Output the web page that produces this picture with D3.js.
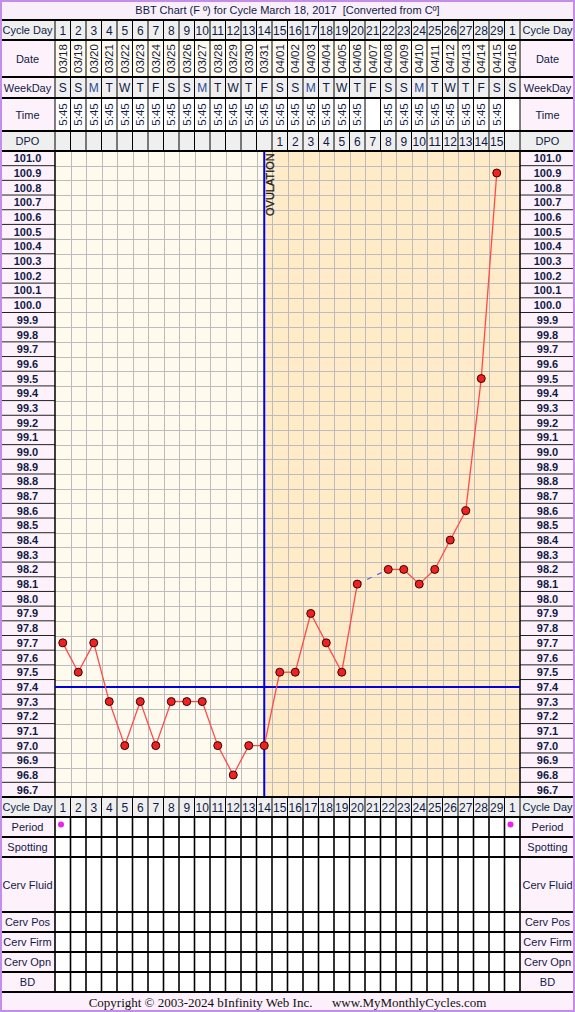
<!DOCTYPE html>
<html>
<head>
<meta charset="utf-8">
<script src="https://cdn.jsdelivr.net/npm/d3@7"></script>
<style>
  body { margin: 0; background: #fff; }
  svg { display: block; font-family: "Liberation Sans", Arial, sans-serif; }
</style>
</head>
<body>
<div id="chart"></div>
<script>
const W = 575, H = 1012;

// chart data
const cycleDays = [1,2,3,4,5,6,7,8,9,10,11,12,13,14,15,16,17,18,19,20,21,22,23,24,25,26,27,28,29,1];
const dates = ["03/18","03/19","03/20","03/21","03/22","03/23","03/24","03/25","03/26","03/27",
    "03/28","03/29","03/30","03/31","04/01","04/02","04/03","04/04","04/05","04/06",
    "04/07","04/08","04/09","04/10","04/11","04/12","04/13","04/14","04/15","04/16"];
const weekdays = ["S","S","M","T","W","T","F","S","S","M","T","W","T","F","S",
    "S","M","T","W","T","F","S","S","M","T","W","T","F","S","S"];
const times = ["5:45","5:45","5:45","5:45","5:45","5:45","5:45","5:45","5:45","5:45",
    "5:45","5:45","5:45","5:45","5:45","5:45","5:45","5:45","5:45","5:45",
    "","5:45","5:45","5:45","5:45","5:45","5:45","5:45","5:45",""];
const dpo = ["","","","","","","","","","","","","","","1","2","3","4","5","6","7","8","9","10","11","12","13","14","15",""];
const temps = [97.7,97.5,97.7,97.3,97.0,97.3,97.0,97.3,97.3,97.3,97.0,96.8,97.0,97.0,
    97.5,97.5,97.9,97.7,97.5,98.1,null,98.2,98.2,98.1,98.2,98.4,98.6,99.5,100.9,null];
const tempTicks = d3.range(0, 44).map(i => +(101.0 - i * 0.1).toFixed(1));
const periodDays = [0, 29];
const ovulationDay = 13;   // index of cycle day 14
const coverline = 97.4;
const bottomRows = [
    {label: "Period", y0: 817, y1: 837},
    {label: "Spotting", y0: 837, y1: 857},
    {label: "Cerv Fluid", y0: 857, y1: 912},
    {label: "Cerv Pos", y0: 912, y1: 932},
    {label: "Cerv Firm", y0: 932, y1: 952},
    {label: "Cerv Opn", y0: 952, y1: 972},
    {label: "BD", y0: 972, y1: 992}
];

const leftW = 55, rightX = 520;
const textCol = "#111a44", pink = "#fdf1fc", gray = "#efefef", cream = "#fffaee", orange = "#ffebc8";

const svg = d3.select("#chart").append("svg")
    .attr("width", W).attr("height", H);

const x = d3.scaleBand().domain(d3.range(30)).range([leftW, rightX]);
const cx = i => x(i) + x.bandwidth() / 2;
const yTop = 151, yBot = 797;
const y = d3.scaleLinear().domain([96.65, 101.05]).range([yBot, yTop]);

// title
svg.append("rect").attr("x", 0).attr("y", 0).attr("width", W).attr("height", 20).attr("fill", "#f9effb");
svg.append("text").attr("x", W / 2).attr("y", 14).attr("text-anchor", "middle")
    .attr("font-size", 11).attr("fill", textCol).attr("xml:space", "preserve")
    .text("BBT Chart (F º) for Cycle March 18, 2017  [Converted from Cº]");

// header rows
function headerRow(y0, y1, label, labelBg, cellBg, values, opts = {}) {
    const g = svg.append("g");
    g.append("rect").attr("x", 0).attr("y", y0).attr("width", leftW).attr("height", y1 - y0).attr("fill", labelBg);
    g.append("rect").attr("x", rightX).attr("y", y0).attr("width", W - rightX).attr("height", y1 - y0).attr("fill", labelBg);
    g.selectAll("rect.cell").data(values).join("rect").attr("class", "cell")
        .attr("x", (d, i) => x(i)).attr("y", y0)
        .attr("width", x.bandwidth()).attr("height", y1 - y0)
        .attr("fill", cellBg);
    [leftW / 2, (rightX + W) / 2].forEach(lx => {
        g.append("text").attr("x", lx).attr("y", (y0 + y1) / 2 + 4)
            .attr("text-anchor", "middle").attr("font-size", 11).attr("fill", textCol).text(label);
    });
    const t = g.selectAll("text.v").data(values).join("text").attr("class", "v")
        .attr("font-size", opts.size || 12)
        .attr("fill", (d) => opts.color ? opts.color(d) : textCol)
        .text(d => d);
    if (opts.rotate) {
        t.attr("text-anchor", "middle")
            .attr("transform", (d, i) => `translate(${cx(i) + 4},${(y0 + y1) / 2}) rotate(-90)`);
    } else {
        t.attr("x", (d, i) => cx(i)).attr("y", (y0 + y1) / 2 + 4.5).attr("text-anchor", "middle");
    }
    g.selectAll("line.v").data(d3.range(31)).join("line").attr("class", "v")
        .attr("x1", i => i === 30 ? rightX : x(i)).attr("x2", i => i === 30 ? rightX : x(i))
        .attr("y1", y0).attr("y2", y1).attr("stroke", "#000").attr("stroke-width", opts.lw || 1);
}

headerRow(20, 40, "Cycle Day", gray, gray, cycleDays, {size: 12});
headerRow(40, 77, "Date", pink, cream, dates, {rotate: true, size: 11.5});
headerRow(77, 98, "WeekDay", pink, gray, weekdays, {color: d => d === "M" ? "#2a4a9a" : textCol});
headerRow(98, 131, "Time", pink, "#fff", times, {rotate: true, size: 11.5});
headerRow(131, 151, "DPO", gray, gray, dpo, {size: 12});

// temperature area
svg.append("rect").attr("x", leftW).attr("y", yTop).attr("width", cx(ovulationDay) - leftW)
    .attr("height", yBot - yTop).attr("fill", cream);
svg.append("rect").attr("x", cx(ovulationDay)).attr("y", yTop).attr("width", rightX - cx(ovulationDay))
    .attr("height", yBot - yTop).attr("fill", orange);

const grid = svg.append("g").attr("stroke", "#bcbcbc").attr("stroke-width", 1);
grid.selectAll("line.h").data(tempTicks.slice(1)).join("line").attr("class", "h")
    .attr("x1", leftW).attr("x2", rightX)
    .attr("y1", d => Math.round(y(d + 0.05)) + 0.5).attr("y2", d => Math.round(y(d + 0.05)) + 0.5);
grid.selectAll("line.v").data(d3.range(1, 30)).join("line").attr("class", "v")
    .attr("x1", i => Math.round(x(i)) + 0.5).attr("x2", i => Math.round(x(i)) + 0.5)
    .attr("y1", yTop).attr("y2", yBot);

// temperature label columns
[[0, leftW], [rightX, W]].forEach(([x0, x1]) => {
    const g = svg.append("g");
    g.append("rect").attr("x", x0).attr("y", yTop).attr("width", x1 - x0).attr("height", yBot - yTop).attr("fill", pink);
    g.selectAll("line").data(tempTicks.slice(1)).join("line")
        .attr("x1", x0).attr("x2", x1)
        .attr("y1", d => y(d + 0.05)).attr("y2", d => y(d + 0.05))
        .attr("stroke", "#222").attr("stroke-width", 1);
    g.selectAll("text").data(tempTicks).join("text")
        .attr("x", (x0 + x1) / 2).attr("y", d => y(d) + 4)
        .attr("text-anchor", "middle").attr("font-size", 11).attr("font-weight", "bold")
        .attr("fill", textCol).text(d => d.toFixed(1));
    g.append("line").attr("x1", x0 === 0 ? x1 : x0).attr("x2", x0 === 0 ? x1 : x0)
        .attr("y1", yTop).attr("y2", yBot).attr("stroke", "#000").attr("stroke-width", 1.5);
});

// coverline and ovulation
svg.append("line").attr("x1", leftW).attr("x2", rightX)
    .attr("y1", y(coverline)).attr("y2", y(coverline))
    .attr("stroke", "#0000e0").attr("stroke-width", 2);
svg.append("line").attr("x1", cx(ovulationDay)).attr("x2", cx(ovulationDay))
    .attr("y1", yTop).attr("y2", yBot)
    .attr("stroke", "#0000e0").attr("stroke-width", 2);
svg.append("text")
    .attr("transform", `translate(${cx(ovulationDay) + 10},${yTop + 65}) rotate(-90)`)
    .attr("font-size", 11).attr("fill", "#1a1a1a").attr("stroke", "#1a1a1a").attr("stroke-width", 0.3)
    .text("OVULATION");

// temperature line
const pts = temps.map((t, i) => ({i, t})).filter(d => d.t !== null);
const line = d3.line().x(d => cx(d.i)).y(d => y(d.t));
const segs = [], gaps = [];
for (let k = 1; k < pts.length; k++) {
    (pts[k].i - pts[k - 1].i === 1 ? segs : gaps).push([pts[k - 1], pts[k]]);
}
svg.append("g").selectAll("path").data(segs).join("path")
    .attr("d", line).attr("fill", "none").attr("stroke", "#ff4a4a").attr("stroke-width", 1.3);
svg.append("g").selectAll("path").data(gaps).join("path")
    .attr("d", line).attr("fill", "none").attr("stroke", "#6a6af0")
    .attr("stroke-width", 1.3).attr("stroke-dasharray", "5,6");
svg.append("g").selectAll("circle").data(pts).join("circle")
    .attr("cx", d => cx(d.i)).attr("cy", d => y(d.t)).attr("r", 4)
    .attr("fill", "#ee2222").attr("stroke", "#3a0000").attr("stroke-width", 1);

// bottom rows
headerRow(797, 817, "Cycle Day", gray, gray, cycleDays, {size: 12});
bottomRows.forEach(r => {
    headerRow(r.y0, r.y1, r.label, pink, "#fff", d3.range(30).map(() => ""), {lw: 1.6});
});
svg.append("g").selectAll("circle").data(periodDays).join("circle")
    .attr("cx", i => x(i) + 6).attr("cy", 824.5).attr("r", 3).attr("fill", "#ee22ee");

// thick row separators
const seps = [20, 40, 77, 98, 131, 151, 797, 817, 837, 857, 912, 932, 952, 972, 992];
svg.append("g").selectAll("line").data(seps).join("line")
    .attr("x1", 0).attr("x2", W).attr("y1", d => d).attr("y2", d => d)
    .attr("stroke", "#000").attr("stroke-width", 2);

// copyright
svg.append("rect").attr("x", 0).attr("y", 993).attr("width", W).attr("height", 19).attr("fill", "#fbf0fb");
svg.append("text").attr("x", W / 2).attr("y", 1007).attr("text-anchor", "middle")
    .attr("font-family", "'Liberation Serif', 'Times New Roman', serif").attr("font-size", 13).attr("fill", "#111")
    .attr("xml:space", "preserve")
    .text("Copyright © 2003-2024 bInfinity Web Inc.      www.MyMonthlyCycles.com");

// outer frame
svg.append("rect").attr("x", 1).attr("y", 1).attr("width", W - 2).attr("height", H - 2)
    .attr("fill", "none").attr("stroke", "#c48ee8").attr("stroke-width", 2);
</script>
</body>
</html>
